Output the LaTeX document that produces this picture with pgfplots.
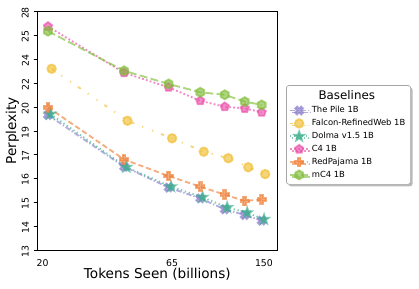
\documentclass[border=0pt]{standalone}
\usepackage{pgfplots}
\pgfplotsset{compat=1.18}
\usepackage{fontspec}
\setmainfont{DejaVu Sans}
\usetikzlibrary{shadows}

\definecolor{cpile}{RGB}{140,130,205}
\definecolor{cfalcon}{RGB}{240,190,50}
\definecolor{cdolma}{RGB}{60,175,140}
\definecolor{cfour}{RGB}{235,80,170}
\definecolor{credp}{RGB}{240,130,60}
\definecolor{cmc}{RGB}{130,190,60}

\pgfdeclareplotmark{fplus}{%
  \pgfpathmoveto{\pgfpoint{-0.33\pgfplotmarksize}{\pgfplotmarksize}}%
  \pgfpathlineto{\pgfpoint{0.33\pgfplotmarksize}{\pgfplotmarksize}}%
  \pgfpathlineto{\pgfpoint{0.33\pgfplotmarksize}{0.33\pgfplotmarksize}}%
  \pgfpathlineto{\pgfpoint{\pgfplotmarksize}{0.33\pgfplotmarksize}}%
  \pgfpathlineto{\pgfpoint{\pgfplotmarksize}{-0.33\pgfplotmarksize}}%
  \pgfpathlineto{\pgfpoint{0.33\pgfplotmarksize}{-0.33\pgfplotmarksize}}%
  \pgfpathlineto{\pgfpoint{0.33\pgfplotmarksize}{-\pgfplotmarksize}}%
  \pgfpathlineto{\pgfpoint{-0.33\pgfplotmarksize}{-\pgfplotmarksize}}%
  \pgfpathlineto{\pgfpoint{-0.33\pgfplotmarksize}{-0.33\pgfplotmarksize}}%
  \pgfpathlineto{\pgfpoint{-\pgfplotmarksize}{-0.33\pgfplotmarksize}}%
  \pgfpathlineto{\pgfpoint{-\pgfplotmarksize}{0.33\pgfplotmarksize}}%
  \pgfpathlineto{\pgfpoint{-0.33\pgfplotmarksize}{0.33\pgfplotmarksize}}%
  \pgfpathclose
  \pgfusepathqfillstroke}

\pgfdeclareplotmark{fstar}{%
  \pgfpathmoveto{\pgfpointpolar{90}{1.12\pgfplotmarksize}}%
  \pgfpathlineto{\pgfpointpolar{126}{0.45\pgfplotmarksize}}%
  \pgfpathlineto{\pgfpointpolar{162}{1.12\pgfplotmarksize}}%
  \pgfpathlineto{\pgfpointpolar{198}{0.45\pgfplotmarksize}}%
  \pgfpathlineto{\pgfpointpolar{234}{1.12\pgfplotmarksize}}%
  \pgfpathlineto{\pgfpointpolar{270}{0.45\pgfplotmarksize}}%
  \pgfpathlineto{\pgfpointpolar{306}{1.12\pgfplotmarksize}}%
  \pgfpathlineto{\pgfpointpolar{342}{0.45\pgfplotmarksize}}%
  \pgfpathlineto{\pgfpointpolar{18}{1.12\pgfplotmarksize}}%
  \pgfpathlineto{\pgfpointpolar{54}{0.45\pgfplotmarksize}}%
  \pgfpathclose
  \pgfusepathqfillstroke}

\pgfdeclareplotmark{fhex}{%
  \pgfpathmoveto{\pgfpointpolar{90}{1.05\pgfplotmarksize}}%
  \pgfpathlineto{\pgfpointpolar{150}{1.05\pgfplotmarksize}}%
  \pgfpathlineto{\pgfpointpolar{210}{1.05\pgfplotmarksize}}%
  \pgfpathlineto{\pgfpointpolar{270}{1.05\pgfplotmarksize}}%
  \pgfpathlineto{\pgfpointpolar{330}{1.05\pgfplotmarksize}}%
  \pgfpathlineto{\pgfpointpolar{30}{1.05\pgfplotmarksize}}%
  \pgfpathclose
  \pgfusepathqfillstroke}

\begin{document}
\begin{tikzpicture}
\begin{axis}[
  name=ax,
  scale only axis,
  width=180.5pt, height=178.7pt,
  xmode=log, ymode=log,
  xmin=19.0, xmax=170,
  ymin=13, ymax=28,
  xtick={20,65,150},
  xticklabels={20,65,150},
  ytick={13,14.0367,15.1561,16.3647,17.6698,19.0789,20.6003,22.2432,24.0170,25.9323,28},
  yticklabels={13,14,15,16,17,19,20,22,24,25,28},
  xminorticks=false, yminorticks=false,
  tick pos=left,
  tick align=outside,
  major tick length=2.6pt,
  xtick style={draw=none},
  ytick style={black, line width=0.5pt},
  axis line style={black, line width=0.6pt},
  tick label style={font=\fontsize{7}{8}\selectfont},
  yticklabel style={rotate=90, anchor=south, xshift=-1pt},
  xticklabel style={yshift=-1pt},
  xlabel={Tokens Seen (billions)},
  ylabel={Perplexity},
  label style={font=\fontsize{10.2}{12}\selectfont},
  xlabel style={at={(axis description cs:0.5,-0.1007)}, anchor=center},
  ylabel style={at={(axis description cs:-0.102,0.5)}, anchor=center},
  legend image code/.code={\draw[mark repeat=2,mark phase=2] plot coordinates {(0cm,0cm) (0.24cm,0cm) (0.48cm,0cm)};},
  legend cell align=left,
  legend style={at={(1.035,0.483)}, anchor=west,
    font=\fontsize{6.3}{7.5}\selectfont,
    draw=black!35, line width=0.5pt, rounded corners=2pt, fill=white,
    drop shadow={shadow xshift=1.5pt, shadow yshift=-1.5pt, fill=black!45, opacity=0.6},
    row sep=-0.6pt, inner sep=2pt},
  every axis plot/.append style={line width=1.4pt, mark size=3.2pt, opacity=0.65},
]
\addlegendimage{empty legend}
\addlegendentry{\hspace{5pt}\fontsize{8.9}{10}\selectfont Baselines}

\addplot[cpile, dash pattern=on 4pt off 1.5pt on 1pt off 1.5pt, mark=fplus, mark options={solid, fill=cpile, rotate=45}]
  coordinates {(21,20.08) (42,17.0) (63,15.9) (84,15.35) (105,14.82) (126,14.55) (147,14.29)};
\addlegendentry{The Pile 1B}

\addplot[cfalcon, dash pattern=on 2.5pt off 6.35pt on 0.8pt off 7.2pt on 0.8pt off 6.35pt, mark=*, mark options={solid, fill=cfalcon}]
  coordinates {(21.7,23.3) (43.3,19.71) (65.0,18.63) (86.7,17.84) (108.4,17.47) (130.0,16.97) (151.7,16.6)};
\addlegendentry{Falcon-RefinedWeb 1B}

\addplot[cdolma, dash pattern=on 1pt off 2pt, mark=fstar, mark options={solid, fill=cdolma}]
  coordinates {(21.46,20.14) (42.9,16.97) (64.4,15.94) (85.8,15.41) (107.3,14.91) (128.8,14.66) (150.2,14.35)};
\addlegendentry{Dolma v1.5 1B}

\addplot[cfour, dash pattern=on 1.4pt off 1.6pt, mark=pentagon*, mark options={solid, fill=cfour}]
  coordinates {(21,26.7) (42,23.0) (63,21.95) (84,21.02) (105,20.62) (126,20.51) (147,20.25)};
\addlegendentry{C4 1B}

\addplot[credp, dash pattern=on 4pt off 2.2pt, mark=fplus, mark options={solid, fill=credp}]
  coordinates {(21,20.58) (42,17.4) (63,16.5) (84,15.94) (105,15.54) (126,15.22) (147,15.3)};
\addlegendentry{RedPajama 1B}

\addplot[cmc, dash pattern=on 6pt off 2.5pt, mark=fhex, mark options={solid, fill=cmc}]
  coordinates {(21,26.3) (42,23.15) (63,22.19) (84,21.6) (105,21.43) (126,20.96) (147,20.74)};
\addlegendentry{mC4 1B}
\end{axis}
\path[use as bounding box] ([xshift=-27.75pt,yshift=-28.5pt]ax.south west) rectangle ([xshift=106pt,yshift=8.8pt]ax.north east);
\end{tikzpicture}
\end{document}
